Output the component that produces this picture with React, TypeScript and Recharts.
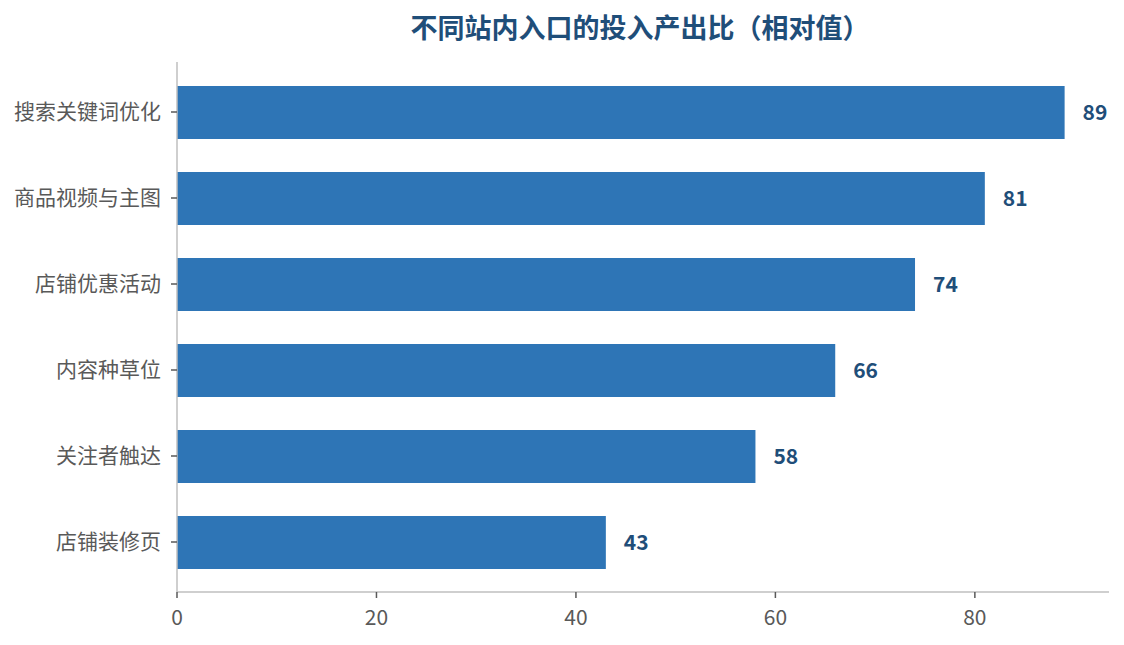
import React from "react";
import { BarChart, Bar, XAxis, YAxis, LabelList } from "recharts";

const categories = ["搜索关键词优化", "商品视频与主图", "店铺优惠活动", "内容种草位", "关注者触达", "店铺装修页"];
const values = [89, 81, 74, 66, 58, 43];
const xTicks = [0, 20, 40, 60, 80];
const title = "不同站内入口的投入产出比（相对值）";

const data = categories.map((name, i) => ({ name, value: values[i] }));

const FONT = '"Noto Sans CJK SC", "Noto Sans", sans-serif';

export default function App() {
  return (
    <div style={{ position: "absolute", left: 0, top: 0, width: 1124, height: 645, background: "#fff", fontFamily: FONT }}>
      <div
        style={{
          position: "absolute",
          left: 340,
          width: 600,
          top: 8,
          textAlign: "center",
          fontSize: 27,
          fontWeight: 700,
          color: "#1f4e79",
          lineHeight: "38px",
          fontFamily: FONT,
        }}
      >
        {title}
      </div>
      <BarChart
        width={1124}
        height={645}
        data={data}
        layout="vertical"
        margin={{ top: 62, right: 15, bottom: 0, left: 0 }}
        style={{ position: "absolute", left: 0, top: 0 }}
      >
        <XAxis
          type="number"
          domain={[0, 93.45]}
          ticks={xTicks}
          height={53}
          axisLine={{ stroke: "#bfbfbf", strokeWidth: 1.5 }}
          tickLine={{ stroke: "#595959", strokeWidth: 1.5 }}
          tickSize={6}
          tickMargin={12}
          tick={{ fill: "#595959", fontSize: 21, fontFamily: FONT }}
          allowDataOverflow
        />
        <YAxis
          type="category"
          dataKey="name"
          width={177}
          padding={{ top: 7, bottom: 7 }}
          axisLine={{ stroke: "#bfbfbf", strokeWidth: 1.5 }}
          tickLine={{ stroke: "#595959", strokeWidth: 1.5 }}
          tickSize={6}
          tickMargin={10}
          tick={{ fill: "#595959", fontSize: 21, fontFamily: FONT }}
        />
        <Bar dataKey="value" fill="#2e75b6" barSize={53} isAnimationActive={false}>
          <LabelList
            dataKey="value"
            position="right"
            offset={18}
            fill="#1f4e79"
            fontSize={21}
            fontWeight={700}
            fontFamily={FONT}
          />
        </Bar>
      </BarChart>
    </div>
  );
}
